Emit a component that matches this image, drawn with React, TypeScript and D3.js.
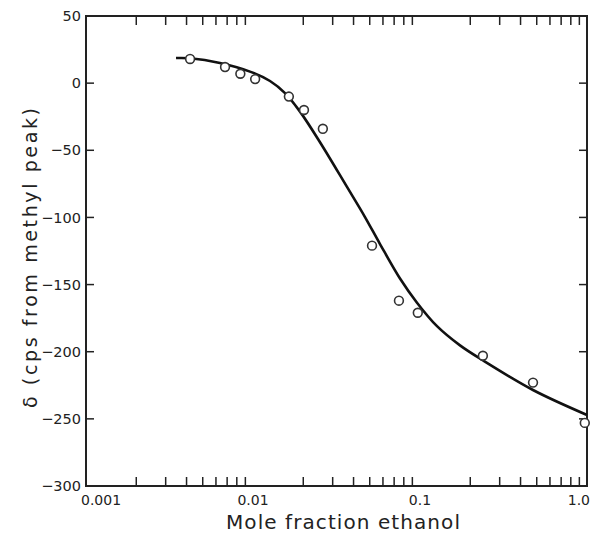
import React from "react";
import * as d3 from "d3";

const pointX = [0.0042, 0.0068, 0.0084, 0.0103, 0.0164, 0.0202, 0.0262, 0.0516, 0.0748, 0.097, 0.238, 0.475, 0.97];
const pointY = [18, 12, 7, 3, -10, -20, -34, -121, -162, -171, -203, -223, -253];

const curveX = [0.00346, 0.0042, 0.00634, 0.00959, 0.01264, 0.01555, 0.01912, 0.02519, 0.03655, 0.04684, 0.0576, 0.0759, 0.09594, 0.1264, 0.1736, 0.2384, 0.4748, 1.0];
const curveY = [18.7, 18.5, 15.0, 8.6, 1.6, -7.4, -21.2, -44.0, -77.3, -99.7, -119.8, -145.5, -163.5, -181.0, -195.3, -206.5, -228.5, -247.1];

const yTicks = [50, 0, -50, -100, -150, -200, -250, -300];
const xMajor = [0.001, 0.01, 0.1, 1.0];
const xMajorLabels = ["0.001", "0.01", "0.1", "1.0"];

const W = 591, H = 535;
const L = 86, R = 587, T = 16, B = 486;

export default function App() {
  const x = d3.scaleLog().domain([0.001, 1]).range([L, R]);
  const y = d3.scaleLinear().domain([-300, 50]).range([B, T]);
  const minor: number[] = [];
  [0.001, 0.01, 0.1].forEach((d) => {
    for (let k = 2; k <= 9; k++) minor.push(d * k);
  });
  const line = d3
    .line<number>()
    .x((_, i) => x(curveX[i]))
    .y((_, i) => y(curveY[i]))
    .curve(d3.curveCatmullRom.alpha(0.5));
  const font = "'DejaVu Sans', sans-serif";
  const fmt = (v: number) => (v < 0 ? "\u2212" + Math.abs(v) : String(v));
  return (
    <svg width={W} height={H} style={{ position: "absolute", left: 0, top: 0, background: "#fff" }}>
      <rect x={0} y={0} width={W} height={H} fill="#fff" />
      <g stroke="#222" fill="none">
        <rect x={L} y={T} width={R - L} height={B - T} strokeWidth={2} />
        {minor.map((m, i) => (
          <g key={i} strokeWidth={1.5}>
            <line x1={x(m)} x2={x(m)} y1={B} y2={B - 9} />
            <line x1={x(m)} x2={x(m)} y1={T} y2={T + 9} />
          </g>
        ))}
        {yTicks.slice(1, -1).map((t, i) => (
          <g key={i} strokeWidth={1.5}>
            <line x1={L} x2={L + 8} y1={y(t)} y2={y(t)} />
            <line x1={R} x2={R - 8} y1={y(t)} y2={y(t)} />
          </g>
        ))}
        <path d={line(curveX) || ""} strokeWidth={2.6} stroke="#111" />
        {pointX.map((px, i) => (
          <circle key={i} cx={x(px)} cy={y(pointY[i])} r={4.4} strokeWidth={1.6} fill="#fff" stroke="#333" />
        ))}
      </g>
      <g fontFamily={font} fill="#222" fontSize={14.5}>
        {yTicks.map((t, i) => (
          <text key={i} x={L - 5} y={y(t)} dy="0.35em" textAnchor="end">
            {fmt(t)}
          </text>
        ))}
      </g>
      <g fontFamily={font} fill="#222" fontSize={14}>
        {xMajor.map((v, i) => (
          <text
            key={i}
            x={i === 0 ? x(v) - 5 : i === 3 ? W - 1 : x(v)}
            y={B + 19}
            textAnchor={i === 0 ? "start" : i === 3 ? "end" : "middle"}
          >
            {xMajorLabels[i]}
          </text>
        ))}
      </g>
      <text
        x={226}
        y={529}
        textLength={234}
        lengthAdjust="spacing"
        fontFamily={font}
        fontSize={20}
        fill="#222"
      >
        Mole fraction ethanol
      </text>
      <text
        transform={`translate(37,408) rotate(-90)`}
        textLength={300}
        lengthAdjust="spacing"
        fontFamily={font}
        fontSize={19}
        fill="#222"
      >
        δ (cps from methyl peak)
      </text>
    </svg>
  );
}
